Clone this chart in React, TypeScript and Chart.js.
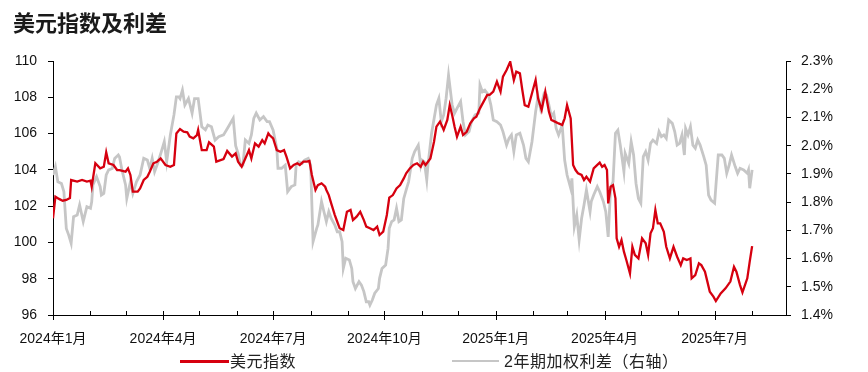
import React, { useEffect, useRef } from 'react';
import { Chart, registerables } from 'chart.js';

Chart.register(...registerables);

// ---------------- data ----------------
const chartTitle = '美元指数及利差';
const dxyLabel = '美元指数';
const spreadLabel = '2年期加权利差（右轴）';

const startYear = 2024;
const monthCount = 21; // 2024-01 .. 2025-09
const labeledMonths = [0, 3, 6, 9, 12, 15, 18];
const xTickLabels = ['2024年1月', '2024年4月', '2024年7月', '2024年10月', '2025年1月', '2025年4月', '2025年7月'];
const xMaxDay = 606; // days after 2024-01-01

const leftAxis = { min: 96, max: 110, step: 2 };
const rightAxis = { min: 1.4, max: 2.3, step: 0.1 };

// [days after 2024-01-01, index value]
const dxyPoints: [number, number][] = [
  [0, 101.33], [2, 102.52], [5, 102.4], [8, 102.3], [11, 102.34], [14, 102.45], [15, 103.44], [20, 103.35],
  [24, 103.44], [28, 103.35], [31, 103.4], [32, 103.07], [35, 104.36], [39, 104.08], [42, 104.17], [44, 104.97],
  [46, 104.36], [50, 104.27], [53, 103.99], [55, 103.99], [60, 103.9], [62, 104.08], [64, 103.72], [66, 102.8],
  [70, 102.8], [72, 102.98], [75, 103.44], [78, 103.62], [80, 103.9], [83, 104.36], [86, 104.45], [89, 104.63],
  [93, 104.27], [97, 104.17], [100, 104.27], [102, 106.01], [105, 106.25], [108, 106.1], [111, 106.07], [113, 105.83],
  [116, 105.74], [119, 105.92], [120, 106.2], [123, 105.09], [127, 105.09], [129, 105.52], [133, 105.28], [135, 104.45],
  [141, 104.6], [144, 105.04], [148, 104.73], [151, 104.91], [153, 104.45], [156, 104.17], [159, 104.63], [162, 105.09],
  [164, 104.63], [165, 104.91], [167, 105.46], [170, 105.28], [173, 105.64], [175, 105.46], [178, 106.01], [179, 105.92],
  [182, 105.74], [185, 105.09], [188, 105.0], [191, 105.09], [193, 104.73], [196, 104.08], [199, 104.27], [202, 104.36],
  [204, 104.27], [207, 104.45], [210, 104.45], [212, 104.49], [214, 103.72], [217, 102.89], [219, 103.16], [222, 103.26],
  [225, 103.07], [226, 102.89], [228, 102.61], [230, 102.15], [233, 101.51], [235, 101.14], [237, 100.78], [240, 100.68],
  [243, 101.69], [246, 101.79], [248, 101.23], [251, 101.42], [254, 101.69], [257, 101.23], [259, 100.87], [262, 100.78],
  [265, 100.68], [268, 100.87], [270, 100.41], [273, 100.59], [276, 101.51], [278, 102.47], [281, 102.61], [284, 102.98],
  [287, 103.16], [290, 103.53], [292, 103.81], [295, 104.08], [298, 104.27], [301, 104.36], [304, 104.17], [306, 104.45],
  [308, 104.27], [312, 104.63], [315, 105.55], [317, 106.38], [320, 106.66], [323, 106.2], [326, 106.75], [328, 107.57],
  [330, 107.02], [332, 106.38], [334, 105.83], [337, 106.38], [339, 105.92], [342, 106.1], [345, 106.56], [348, 106.84],
  [350, 106.93], [353, 107.39], [356, 107.76], [359, 108.13], [361, 108.13], [364, 108.31], [367, 108.86], [370, 108.31],
  [372, 109.14], [375, 109.5], [378, 109.96], [381, 108.95], [383, 109.41], [386, 109.32], [388, 108.4], [390, 107.57],
  [393, 107.48], [396, 108.22], [399, 108.95], [401, 107.94], [404, 107.3], [407, 108.31], [410, 107.21], [412, 106.75],
  [415, 106.66], [418, 106.56], [421, 106.47], [423, 106.84], [425, 107.57], [428, 106.84], [430, 104.27], [432, 103.99],
  [434, 103.81], [437, 103.72], [439, 103.44], [441, 103.62], [444, 103.35], [447, 104.08], [450, 104.27], [452, 104.4],
  [454, 104.17], [456, 104.27], [458, 103.99], [459, 102.15], [461, 103.07], [463, 103.16], [465, 102.43], [466, 100.22],
  [468, 99.76], [470, 100.13], [472, 99.49], [474, 99.03], [477, 98.29], [479, 99.76], [481, 99.31], [484, 99.12],
  [487, 100.22], [490, 99.95], [492, 99.31], [494, 100.5], [496, 100.78], [498, 101.79], [500, 101.05], [502, 101.05],
  [505, 100.59], [507, 99.76], [510, 99.12], [513, 99.76], [516, 99.21], [519, 98.75], [521, 99.12], [524, 99.03],
  [527, 99.12], [528, 98.02], [531, 98.2], [534, 98.85], [536, 98.75], [539, 98.39], [541, 97.84], [543, 97.28],
  [546, 97.01], [548, 96.77], [552, 97.19], [556, 97.47], [560, 97.84], [563, 98.66], [565, 98.39], [568, 97.65],
  [570, 97.25], [574, 98.02], [576, 98.94], [578, 99.8],
];

// [days after 2024-01-01, spread in %]
const spreadPoints: [number, number][] = [
  [0, 1.896], [2, 1.925], [4, 1.872], [7, 1.866], [9, 1.837], [11, 1.707], [13, 1.683], [15, 1.654], [17, 1.748],
  [20, 1.754], [22, 1.79], [25, 1.731], [28, 1.784], [31, 1.778], [32, 1.801], [33, 1.861], [36, 1.89], [39, 1.855],
  [40, 1.825], [42, 1.831], [44, 1.896], [46, 1.914], [49, 1.919], [51, 1.955], [54, 1.967], [55, 1.96], [57, 1.914],
  [60, 1.861], [61, 1.813], [64, 1.872], [66, 1.831], [69, 1.872], [72, 1.896], [75, 1.955], [78, 1.949], [80, 1.919],
  [82, 1.955], [84, 1.908], [87, 1.943], [90, 1.985], [92, 2.014], [94, 1.943], [97, 2.038], [100, 2.109], [102, 2.173],
  [104, 2.173], [105, 2.167], [107, 2.197], [109, 2.144], [112, 2.167], [115, 2.115], [117, 2.167], [120, 2.167],
  [123, 2.067], [126, 2.056], [128, 2.073], [131, 2.067], [134, 2.02], [137, 2.032], [141, 2.038], [145, 2.067],
  [149, 2.097], [151, 2.0], [153, 1.973], [155, 1.931], [157, 1.931], [159, 2.02], [162, 2.008], [164, 2.038],
  [166, 2.097], [168, 2.115], [171, 2.091], [174, 2.103], [177, 2.085], [179, 2.085], [182, 2.055], [185, 1.991],
  [186, 1.92], [189, 1.92], [192, 1.931], [194, 1.837], [197, 1.855], [200, 1.861], [201, 1.931], [203, 1.943],
  [206, 1.937], [208, 1.949], [211, 1.955], [213, 1.931], [215, 1.66], [218, 1.707], [219, 1.719], [222, 1.802],
  [224, 1.766], [226, 1.731], [228, 1.766], [230, 1.742], [233, 1.719], [235, 1.695], [237, 1.695], [239, 1.66],
  [240, 1.565], [242, 1.601], [245, 1.595], [247, 1.565], [248, 1.518], [250, 1.494], [253, 1.518], [255, 1.506],
  [257, 1.483], [259, 1.447], [261, 1.447], [262, 1.435], [264, 1.453], [266, 1.477], [269, 1.494], [270, 1.53],
  [272, 1.565], [275, 1.577], [277, 1.636], [278, 1.707], [280, 1.731], [282, 1.737], [284, 1.778], [286, 1.731],
  [288, 1.737], [290, 1.813], [292, 1.843], [294, 1.872], [297, 1.955], [299, 1.979], [302, 2.002], [304, 1.931],
  [305, 1.949], [307, 1.943], [309, 1.878], [310, 1.931], [313, 2.044], [317, 2.144], [319, 2.168], [321, 2.085],
  [323, 2.109], [325, 2.168], [327, 2.25], [330, 2.144], [332, 2.115], [334, 2.132], [337, 2.156], [339, 2.085],
  [341, 2.038], [344, 2.05], [346, 2.085], [349, 2.109], [352, 2.115], [353, 2.215], [355, 2.191], [357, 2.197],
  [360, 2.18], [362, 2.144], [364, 2.091], [367, 2.085], [370, 2.073], [372, 2.05], [375, 2.002], [377, 2.026],
  [379, 2.038], [381, 1.979], [383, 2.038], [386, 2.044], [389, 2.002], [391, 1.955], [393, 1.943], [396, 2.014],
  [399, 2.12], [401, 2.174], [403, 2.132], [406, 2.185], [408, 2.18], [410, 2.144], [412, 2.103], [414, 2.115],
  [416, 2.061], [418, 2.038], [421, 2.073], [423, 1.949], [425, 1.896], [428, 1.849], [429, 1.884], [431, 1.713],
  [433, 1.754], [435, 1.666], [437, 1.742], [439, 1.79], [441, 1.843], [444, 1.766], [445, 1.802], [447, 1.825],
  [450, 1.855], [452, 1.837], [455, 1.802], [457, 1.766], [459, 1.677], [461, 1.849], [463, 1.872], [465, 2.044],
  [467, 2.055], [469, 2.002], [472, 1.908], [473, 1.973], [476, 1.937], [478, 2.014], [480, 1.967], [482, 1.866],
  [484, 1.813], [486, 1.796], [488, 1.961], [490, 1.979], [492, 1.949], [494, 2.008], [496, 2.02], [499, 2.008],
  [501, 2.05], [503, 2.032], [505, 2.038], [507, 2.026], [509, 2.091], [512, 2.079], [514, 2.05], [516, 2.002],
  [518, 2.008], [520, 2.038], [522, 1.967], [523, 2.061], [525, 2.038], [527, 2.067], [529, 2.002], [531, 1.991],
  [533, 2.02], [535, 2.002], [538, 1.961], [540, 1.931], [542, 1.825], [544, 1.807], [547, 1.796], [548, 1.855],
  [550, 1.967], [553, 1.967], [555, 1.955], [557, 1.902], [559, 1.931], [561, 1.967], [564, 1.926], [566, 1.902],
  [568, 1.92], [571, 1.914], [574, 1.902], [575, 1.914], [576, 1.849], [578, 1.914],
];

// ---------------- styling ----------------
const RED = '#D6000F';
const GREY = '#C6C6C6';
const TEXT = '#111111';
const FONT = "'Liberation Sans', Arial, 'Noto Sans CJK SC', sans-serif";

const W = 868;
const H = 372;

const monthStartDays = Array.from({ length: monthCount }, (_, i) =>
  Math.round((Date.UTC(startYear, i, 1) - Date.UTC(startYear, 0, 1)) / 86400000)
);

const xTickMarks = {
  id: 'xTickMarks',
  afterDraw(chart: any) {
    const xs = chart.scales.x;
    const ctx = chart.ctx;
    const y = chart.chartArea.bottom;
    ctx.save();
    ctx.strokeStyle = '#000';
    ctx.lineWidth = 1;
    monthStartDays.forEach((d, i) => {
      if (d > xMaxDay) return;
      const px = Math.round(xs.getPixelForValue(d)) + 0.5;
      const major = labeledMonths.includes(i);
      ctx.beginPath();
      ctx.moveTo(px, y - 4);
      ctx.lineTo(px, major ? y + 5 : y);
      ctx.stroke();
    });
    ctx.restore();
  },
};

export default function App() {
  const canvasRef = useRef<HTMLCanvasElement | null>(null);

  useEffect(() => {
    if (!canvasRef.current) return;
    Chart.defaults.font.family = FONT;
    const chart = new Chart(canvasRef.current, {
      type: 'line',
      data: {
        datasets: [
          {
            label: dxyLabel,
            data: dxyPoints.map(([x, y]) => ({ x, y })),
            borderColor: RED,
            backgroundColor: RED,
            borderWidth: 2.3,
            pointRadius: 0,
            tension: 0,
            yAxisID: 'y',
          },
          {
            label: spreadLabel,
            data: spreadPoints.map(([x, y]) => ({ x, y })),
            borderColor: GREY,
            backgroundColor: GREY,
            borderWidth: 2.8,
            pointRadius: 0,
            tension: 0,
            yAxisID: 'y1',
          },
        ],
      },
      options: {
        responsive: false,
        animation: false,
        devicePixelRatio: 1,
        layout: { padding: { top: 61, left: 0, right: 0, bottom: 0 } },
        plugins: {
          legend: { display: false },
          title: { display: false },
          tooltip: { enabled: false },
        },
        scales: {
          x: {
            type: 'linear',
            min: 0,
            max: xMaxDay,
            afterBuildTicks: (scale: any) => {
              scale.ticks = monthStartDays.filter((d) => d <= xMaxDay).map((v) => ({ value: v }));
            },
            afterFit: (scale: any) => {
              scale.height = 57;
            },
            ticks: {
              autoSkip: false,
              maxRotation: 0,
              minRotation: 0,
              padding: 16,
              color: TEXT,
              font: { size: 14 },
              callback: (value: any) => {
                const i = monthStartDays.indexOf(Number(value));
                const k = labeledMonths.indexOf(i);
                return k >= 0 ? xTickLabels[k] : '';
              },
            },
            grid: { display: true, drawOnChartArea: false, drawTicks: false },
            border: { display: true, color: '#000', width: 1 },
          },
          y: {
            position: 'left',
            min: leftAxis.min,
            max: leftAxis.max,
            afterFit: (scale: any) => {
              scale.width = 53;
            },
            ticks: { stepSize: leftAxis.step, padding: 11, color: TEXT, font: { size: 14 } },
            grid: { drawOnChartArea: false, drawTicks: true, tickLength: 5, tickColor: '#000' },
            border: { display: true, color: '#000', width: 1 },
          },
          y1: {
            position: 'right',
            min: rightAxis.min,
            max: rightAxis.max,
            afterFit: (scale: any) => {
              scale.width = 82;
            },
            ticks: {
              stepSize: rightAxis.step,
              padding: 10,
              color: TEXT,
              font: { size: 14 },
              callback: (v: any) => Number(v).toFixed(1) + '%',
            },
            grid: { drawOnChartArea: false, drawTicks: true, tickLength: 5, tickColor: '#000' },
            border: { display: true, color: '#000', width: 1 },
          },
        },
      },
      plugins: [xTickMarks],
    } as any);
    return () => chart.destroy();
  }, []);

  const legendText: React.CSSProperties = {
    position: 'absolute',
    fontFamily: FONT,
    fontSize: 16,
    lineHeight: '16px',
    color: '#222',
    whiteSpace: 'nowrap',
    letterSpacing: 0.5,
  };

  return (
    <div style={{ position: 'absolute', left: 0, top: 0, width: W, height: H, background: '#fff', overflow: 'hidden' }}>
      <canvas ref={canvasRef} width={W} height={H} style={{ position: 'absolute', left: 0, top: 0, width: W, height: H }} />
      <div
        style={{
          position: 'absolute',
          left: 13,
          top: 10,
          fontFamily: "'Noto Sans CJK SC', sans-serif",
          fontWeight: 700,
          fontSize: 22,
          lineHeight: '22px',
          color: '#1a1a1a',
          whiteSpace: 'nowrap',
        }}
      >
        {chartTitle}
      </div>
      <div style={{ position: 'absolute', left: 180, top: 360, width: 49, height: 3, background: RED }} />
      <div style={{ ...legendText, left: 230, top: 354 }}>{dxyLabel}</div>
      <div style={{ position: 'absolute', left: 452, top: 360, width: 47, height: 2, background: GREY }} />
      <div style={{ ...legendText, left: 504, top: 354 }}>{spreadLabel}</div>
    </div>
  );
}
